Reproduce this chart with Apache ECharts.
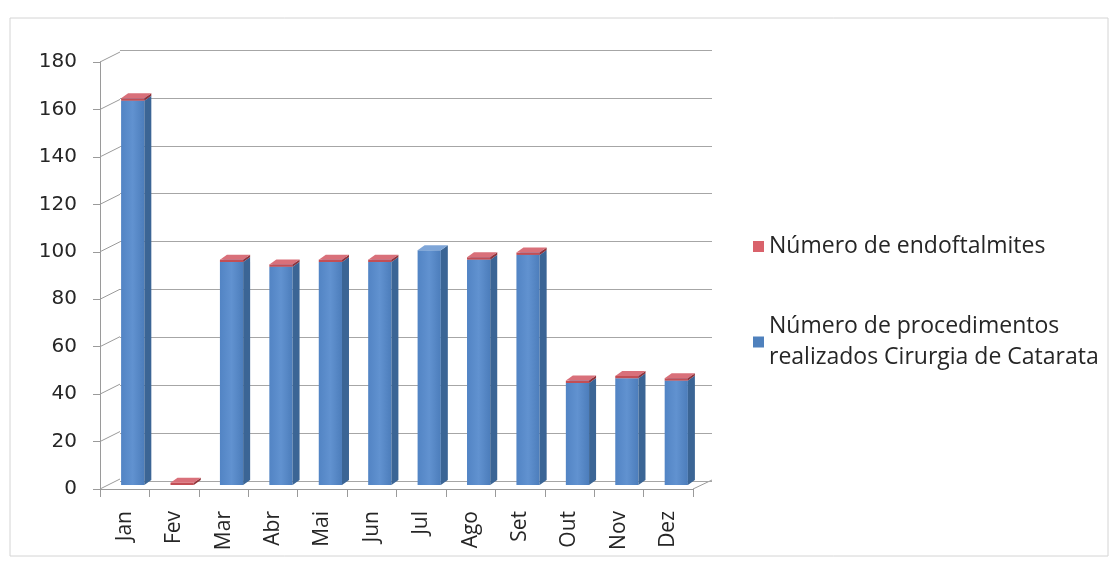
<!DOCTYPE html>
<html><head><meta charset="utf-8">
<script src="https://cdn.jsdelivr.net/npm/echarts@6/dist/echarts.min.js"></script>
<style>html,body{margin:0;padding:0;background:#fff}#c{width:1118px;height:567px}</style>
</head><body><div id="c"></div>
<script>
var categories = ['Jan','Fev','Mar','Abr','Mai','Jun','Jul','Ago','Set','Out','Nov','Dez'];
var procedimentos = [162, 0, 94, 92, 94, 94, 99, 95, 97, 43, 45, 44];
var endoftalmites = [1, 1, 1, 1, 1, 1, 0, 1, 1, 1, 1, 1];
var yTicks = [0,20,40,60,80,100,120,140,160,180];
var nameEndo = 'Número de endoftalmites';
var nameProc = 'Número de procedimentos\nrealizados Cirurgia de Catarata';

var FONT = 'Open Sans';
var DX = 7, DY = 5;

function boxRenderer(front, side, top){
  return function(params, api){
    var cat = api.value(0), base = api.value(1), topV = api.value(2);
    if (topV - base <= 0) return null;
    var p0 = api.coord([cat, base]);
    var p1 = api.coord([cat, topV]);
    var bw = api.size([1,0])[0];
    var w = bw*0.47;
    var x = p0[0]-w/2, yb = p0[1], yt = p1[1];
    return {type:'group', children:[
      {type:'rect', shape:{x:x, y:yt, width:w, height:yb-yt}, style:{fill:front}},
      {type:'polygon', shape:{points:[[x+w,yt],[x+w+DX,yt-DY],[x+w+DX,yb-DY],[x+w,yb]]}, style:{fill:side}},
      {type:'polygon', shape:{points:[[x,yt],[x+DX,yt-DY],[x+w+DX,yt-DY],[x+w,yt]]}, style:{fill:top}}
    ]};
  };
}

var blueFront = new echarts.graphic.LinearGradient(0,0,1,0,[{offset:0,color:'#5284c4'},{offset:0.5,color:'#6192d0'},{offset:1,color:'#4c7dbb'}]);
var redFront = '#c24e55';

var chart = echarts.init(document.getElementById('c'));
chart.setOption({
  animation:false,
  graphic:[
    {type:'rect', shape:{x:10,y:18,width:1098,height:538}, style:{fill:'none', stroke:'#d4d4d4', lineWidth:1}, z:-1},
    {type:'line', shape:{x1:693,y1:489,x2:712,y2:480}, style:{stroke:'#9a9a9a', lineWidth:1}}
  ],
  grid:[
    {left:100, right:425, top:62, bottom:78},   // front
    {left:120, right:406, top:50, bottom:86},   // back wall
    {left:108, right:417, top:58, bottom:82}    // bars (mid depth)
  ],
  xAxis:[
    {type:'category', gridIndex:0, data:categories,
     axisLine:{show:true, lineStyle:{color:'#9a9a9a'}},
     axisTick:{show:true, length:8, lineStyle:{color:'#9a9a9a'}},
     axisLabel:{rotate:90, margin:22, fontFamily:FONT, fontSize:21, color:'#262626'}},
    {type:'category', gridIndex:1, data:categories, show:false},
    {type:'category', gridIndex:2, data:categories, show:false}
  ],
  yAxis:[
    {type:'value', gridIndex:0, min:0, max:180, interval:20,
     axisLine:{show:true, lineStyle:{color:'#9a9a9a'}},
     axisTick:{show:true, inside:false, length:7, lineStyle:{color:'#9a9a9a'}},
     splitLine:{show:false},
     axisLabel:{margin:23, fontFamily:'DejaVu Sans', fontSize:20, color:'#262626'}},
    {type:'value', gridIndex:1, min:0, max:180, interval:20,
     axisLine:{show:false}, axisTick:{show:false}, axisLabel:{show:false},
     splitLine:{show:true, lineStyle:{color:'#a6a6a6', width:1}}},
    {type:'value', gridIndex:2, min:0, max:180, interval:20, show:false, splitLine:{show:false}}
  ],
  legend:{
    orient:'vertical', left:748, top:226, itemWidth:11, itemHeight:11, itemGap:49,
    data:[nameEndo, nameProc],
    textStyle:{fontFamily:FONT, fontSize:23, color:'#262626', lineHeight:31},
    icon:'rect'
  },
  series:[
    {type:'custom', name:'diag', xAxisIndex:0, yAxisIndex:0, silent:true,
     data: yTicks.map(function(v){return [0, v];}),
     renderItem:function(params, api){
       var p = api.coord([0, api.value(1)]);
       var bw = api.size([1,0])[0];
       var x = p[0]-bw/2;
       return {type:'line', shape:{x1:x, y1:p[1], x2:x+20, y2:p[1]-10}, style:{stroke:'#9a9a9a', lineWidth:1}};
     }},
    {type:'custom', name:nameProc, xAxisIndex:2, yAxisIndex:2,
     itemStyle:{color:'#4f81bd'},
     data: procedimentos.map(function(v,i){return [i, 0, v];}),
     renderItem: boxRenderer(blueFront, '#3b6595', '#7fa6d8')},
    {type:'custom', name:nameEndo, xAxisIndex:2, yAxisIndex:2,
     itemStyle:{color:'#d9626b'},
     data: endoftalmites.map(function(v,i){return [i, procedimentos[i], procedimentos[i]+v];}),
     renderItem: boxRenderer(redFront, '#8f3238', '#d9707a')}
  ]
});
</script></body></html>
